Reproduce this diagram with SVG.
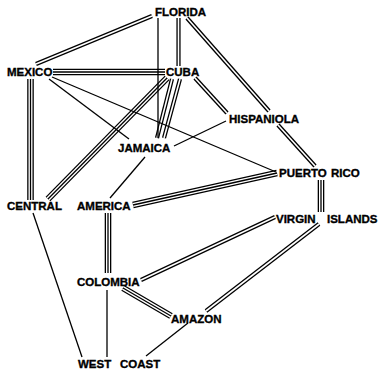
<svg xmlns="http://www.w3.org/2000/svg" xmlns:xlink="http://www.w3.org/1999/xlink" width="380" height="373" viewBox="0 0 380 373">
<style>
.lbl{font-family:"Liberation Sans",Arial,sans-serif;font-weight:bold;font-size:11.5px;fill:#000;stroke:#000;stroke-width:0.35}
.s{stroke:#000;stroke-width:1.3;fill:none}
.k4{stroke:#000;stroke-width:4.2;fill:none}
.w4{stroke:#fff;stroke-width:1.6;fill:none}
.k6{stroke:#000;stroke-width:6.6;fill:none}
.w6{stroke:#fff;stroke-width:4;fill:none}
.k1{stroke:#000;stroke-width:1.3;fill:none}
</style>
<defs>
<path id="mex-flo" d="M36,64 L152,16"/>
<path id="mex-cuba" d="M53,72 L165,72"/>
<path id="mex-cen" d="M30.5,79 L30.5,200"/>
<path id="flo-cuba" d="M178.5,18 L178.5,66"/>
<path id="flo-his" d="M187,18 L269,111"/>
<path id="his-pr" d="M278,125 L315,166"/>
<path id="cuba-his" d="M195,78 L227,113"/>
<path id="cuba-jam1" d="M172,79 L157,138"/>
<path id="cuba-jam2" d="M180,79 L164,138"/>
<path id="cuba-cen" d="M167,78 L48,199"/>
<path id="am-pr" d="M133,205 L277,173"/>
<path id="am-col" d="M108,213 L108,273"/>
<path id="col-vi" d="M141,280 L275,217"/>
<path id="col-amz" d="M123,288 L171,316"/>
<path id="amz-vi" d="M206,311 L319,224"/>
<path id="pr-vi" d="M321,180 L321,212"/>
</defs>
<rect width="380" height="373" fill="#fff"/>
<g id="connectors">
<use xlink:href="#mex-flo" class="k4"/><use xlink:href="#mex-flo" class="w4"/>
<use xlink:href="#mex-cuba" class="k6"/><use xlink:href="#mex-cuba" class="w6"/><use xlink:href="#mex-cuba" class="k1"/>
<use xlink:href="#mex-cen" class="k6"/><use xlink:href="#mex-cen" class="w6"/><use xlink:href="#mex-cen" class="k1"/>
<use xlink:href="#flo-cuba" class="k4"/><use xlink:href="#flo-cuba" class="w4"/>
<use xlink:href="#flo-his" class="k4"/><use xlink:href="#flo-his" class="w4"/>
<use xlink:href="#his-pr" class="k4"/><use xlink:href="#his-pr" class="w4"/>
<use xlink:href="#cuba-his" class="k4"/><use xlink:href="#cuba-his" class="w4"/>
<use xlink:href="#cuba-cen" class="k6"/><use xlink:href="#cuba-cen" class="w6"/><use xlink:href="#cuba-cen" class="k1"/>
<use xlink:href="#cuba-jam1" class="k4"/><use xlink:href="#cuba-jam1" class="w4"/>
<use xlink:href="#cuba-jam2" class="k4"/><use xlink:href="#cuba-jam2" class="w4"/>
<use xlink:href="#am-pr" class="k6"/><use xlink:href="#am-pr" class="w6"/><use xlink:href="#am-pr" class="k1"/>
<use xlink:href="#am-col" class="k6"/><use xlink:href="#am-col" class="w6"/><use xlink:href="#am-col" class="k1"/>
<use xlink:href="#col-vi" class="k4"/><use xlink:href="#col-vi" class="w4"/>
<use xlink:href="#col-amz" class="k6"/><use xlink:href="#col-amz" class="w6"/><use xlink:href="#col-amz" class="k1"/>
<use xlink:href="#amz-vi" class="k4"/><use xlink:href="#amz-vi" class="w4"/>
<use xlink:href="#pr-vi" class="k6"/><use xlink:href="#pr-vi" class="w6"/><use xlink:href="#pr-vi" class="k1"/>
<path class="s" d="M49,79 L129,139"/>
<path class="s" d="M52,77 L276,172"/>
<path class="s" d="M158,18 L158,138"/>
<path class="s" d="M174,146 L226,121"/>
<path class="s" d="M145,157 L110,198"/>
<path class="s" d="M33,213 L82,357"/>
<path class="s" d="M107,290 L107,357"/>
<path class="s" d="M188,323 L146,356"/>
</g>
<g id="florida"><text class="lbl" x="155" y="16">FLORIDA</text></g>
<g id="mexico"><text class="lbl" x="7" y="76">MEXICO</text></g>
<g id="cuba"><text class="lbl" x="166" y="76">CUBA</text></g>
<g id="hispaniola"><text class="lbl" x="229" y="123">HISPANIOLA</text></g>
<g id="jamaica"><text class="lbl" x="118" y="152">JAMAICA</text></g>
<g id="puerto-rico"><text class="lbl" x="279" y="177">PUERTO<tspan x="331">RICO</tspan></text></g>
<g id="central-america"><text class="lbl" x="7" y="210">CENTRAL<tspan x="77">AMERICA</tspan></text></g>
<g id="virgin-islands"><text class="lbl" x="276" y="223">VIRGIN<tspan x="327">ISLANDS</tspan></text></g>
<g id="colombia"><text class="lbl" x="77" y="286">COLOMBIA</text></g>
<g id="amazon"><text class="lbl" x="171" y="323">AMAZON</text></g>
<g id="west-coast"><text class="lbl" x="78" y="368">WEST<tspan x="120">COAST</tspan></text></g>
</svg>
